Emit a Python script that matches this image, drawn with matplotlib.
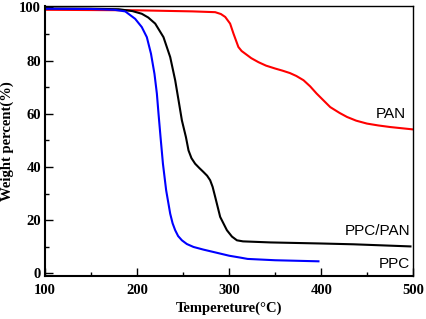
import matplotlib
matplotlib.use("Agg")
import matplotlib.pyplot as plt
from matplotlib.ticker import MultipleLocator

# temperature (C) / weight (%)
ppc_t = [100, 150, 175, 187, 197.8, 205, 210.5, 215, 218.8, 221.4, 223.2, 225.4, 228, 231.5, 235.9,
         238.5, 241.3, 244.5, 248.6, 254, 261.2, 272, 283, 300, 312, 320, 350, 397]
ppc_w = [99.5, 99.4, 99.1, 98.5, 95.7, 92.6, 88.8, 82.6, 75, 67.6, 60, 51.2, 41.2, 31.2, 22.4,
         18.8, 16.2, 14, 12.4, 11, 9.9, 8.9, 8, 6.6, 5.9, 5.4, 4.9, 4.5]

blend_t = [100, 150, 180, 195, 205, 212, 219.6, 228.6, 235.9, 241.3, 245, 248.6, 253, 255.8, 259, 263,
           267.5, 272, 276, 279.3, 282, 284.8, 290.2, 297.5, 303, 308.4, 315, 345, 400, 435, 497]
blend_w = [99.6, 99.5, 99.3, 98.6, 97.6, 96.2, 93.9, 88.8, 81.3, 72.6, 65, 57.5, 51.2, 46.2, 43.3, 41.2,
           39.6, 38.1, 36.7, 35, 32.5, 28.7, 21.2, 16.2, 13.8, 12.4, 12, 11.6, 11.2, 10.9, 10.1]

pan_t = [100, 200, 260, 284.8, 291, 295.7, 301, 304.7, 310, 313.5, 317.4, 324, 331.8, 340, 350, 358,
         366, 373, 380.8, 388, 395, 409.8, 420, 428, 438, 449.7, 462, 475, 500]
pan_w = [99.1, 98.9, 98.5, 98.2, 97.5, 96.4, 93.9, 90.1, 85.1, 83.6, 82.6, 80.9, 79.4, 78.1, 77, 76.2,
         75.3, 74.2, 72.6, 70.3, 67.6, 62.5, 60.3, 58.8, 57.4, 56.3, 55.6, 55, 54.1]

labels = ["PAN", "PPC/PAN", "PPC"]
label_t = [492, 496.5, 496]
label_w = [60, 15.8, 3.4]

fig = plt.figure(figsize=(4.26, 3.19), dpi=100)
ax = fig.add_axes([0.106, 0.135, 0.864, 0.846])

ax.plot(pan_t, pan_w, color="red", lw=1.5, solid_joinstyle="round")
ax.plot(blend_t, blend_w, color="black", lw=1.5, solid_joinstyle="round")
ax.plot(ppc_t, ppc_w, color="blue", lw=1.5, solid_joinstyle="round")

for txt, t, w in zip(labels, label_t, label_w):
    ax.text(t, w, txt, ha="right", va="center", fontsize=11, family="Liberation Sans")

ax.set_xlim(100, 500)
ax.set_ylim(-1, 100.5)
ax.xaxis.set_major_locator(MultipleLocator(100))
ax.xaxis.set_minor_locator(MultipleLocator(50))
ax.yaxis.set_major_locator(MultipleLocator(20))
ax.yaxis.set_minor_locator(MultipleLocator(10))
ax.tick_params(which="both", direction="in", top=False, right=False, width=1)
ax.tick_params(which="major", length=6)
ax.tick_params(axis="x", which="major", pad=6)
ax.tick_params(axis="y", which="major", pad=3)
ax.tick_params(which="minor", length=3)
for lab in ax.get_xticklabels() + ax.get_yticklabels():
    lab.set_family("Liberation Serif")
    lab.set_fontweight("bold")
    lab.set_fontsize(10.5)
for s in ["left", "bottom"]:
    ax.spines[s].set_linewidth(1.5)
for s in ["top", "right"]:
    ax.spines[s].set_linewidth(1.0)

ax.set_xlabel("Tempereture(°C)", family="Liberation Serif", fontweight="bold", fontsize=10.5, labelpad=3)
ax.set_ylabel("Weight percent(%)", family="Liberation Serif", fontweight="bold", fontsize=10.5, labelpad=4)

fig.savefig("out.png", dpi=100)
